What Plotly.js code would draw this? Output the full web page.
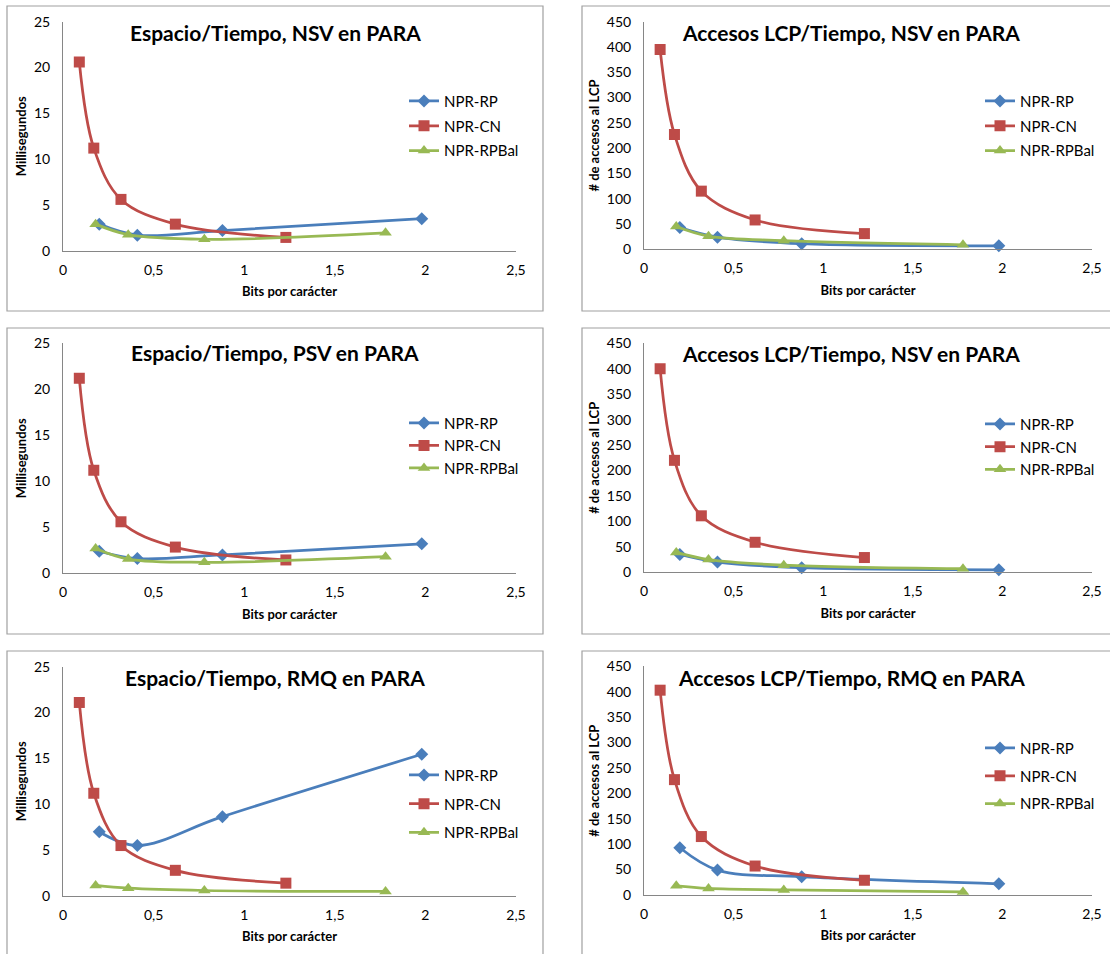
<!DOCTYPE html>
<html><head><meta charset="utf-8">
<script src="https://cdn.plot.ly/plotly-3.0.1.min.js"></script>
<style>html,body{margin:0;padding:0;background:#fff}#chart{width:1110px;height:954px}</style>
</head><body><div id="chart"></div>
<script>
// ---- data ----
const seriesNames = ['NPR-RP', 'NPR-CN', 'NPR-RPBal'];
const xRP  = [0.20, 0.41, 0.88, 1.98];
const xCN  = [0.09, 0.17, 0.32, 0.62, 1.23];
const xBal = [0.18, 0.36, 0.78, 1.78];

const titles = [
  'Espacio/Tiempo, NSV en PARA',
  'Accesos LCP/Tiempo, NSV en PARA',
  'Espacio/Tiempo, PSV en PARA',
  'Accesos LCP/Tiempo, NSV en PARA',
  'Espacio/Tiempo, RMQ en PARA',
  'Accesos LCP/Tiempo, RMQ en PARA'
];
const yTitles = ['Millisegundos', '# de accesos al LCP', 'Millisegundos', '# de accesos al LCP', 'Millisegundos', '# de accesos al LCP'];
const xTitle = 'Bits por carácter';
const xTickVals = [0, 0.5, 1, 1.5, 2, 2.5];
const yMaxMs = 25, yMaxLcp = 450;

// panel 1: Espacio/Tiempo NSV
const p1RP  = [2.9, 1.7, 2.2, 3.5];
const p1CN  = [20.6, 11.2, 5.6, 2.9, 1.45];
const p1Bal = [2.9, 1.75, 1.25, 1.95];
// panel 2: Accesos LCP NSV
const p2RP  = [43, 24, 11, 7];
const p2CN  = [395, 227, 115, 58, 31];
const p2Bal = [45, 26, 17, 9];
// panel 3: Espacio/Tiempo PSV
const p3RP  = [2.4, 1.6, 2.0, 3.2];
const p3CN  = [21.2, 11.2, 5.6, 2.85, 1.45];
const p3Bal = [2.7, 1.55, 1.2, 1.8];
// panel 4: Accesos LCP NSV (second)
const p4RP  = [35, 20, 9, 5];
const p4CN  = [400, 220, 111, 59, 29];
const p4Bal = [39, 25, 14, 7];
// panel 5: Espacio/Tiempo RMQ
const p5RP  = [7.0, 5.5, 8.65, 15.45];
const p5CN  = [21.1, 11.2, 5.5, 2.8, 1.4];
const p5Bal = [1.15, 0.85, 0.6, 0.5];
// panel 6: Accesos LCP RMQ
const p6RP  = [93, 49, 36, 22];
const p6CN  = [403, 227, 115, 57, 29];
const p6Bal = [18, 13, 10, 6];

const panelData = [
  [p1RP, p1CN, p1Bal], [p2RP, p2CN, p2Bal], [p3RP, p3CN, p3Bal],
  [p4RP, p4CN, p4Bal], [p5RP, p5CN, p5Bal], [p6RP, p6CN, p6Bal]
];
const yMax = [yMaxMs, yMaxLcp, yMaxMs, yMaxLcp, yMaxMs, yMaxLcp];
const yDtick = [5, 50, 5, 50, 5, 50];

// ---- geometry (pixels) ----
const W = 1110, H = 954;
const geom = [
  {box:[7,543,6,311],   px:[63,516],  py:[21.7,250.7], title:[275,32],  leg:[409,100,24.8]},
  {box:[582,1118,6,311],px:[644,1092],py:[21.7,249.3], title:[851,32],  leg:[985,100,24.8]},
  {box:[7,543,328,634], px:[63,516],  py:[343.3,573.3],title:[275,353], leg:[409,422,22.5]},
  {box:[582,1118,328,634],px:[644,1092],py:[343.3,572.3],title:[851,354],leg:[985,423,22.7]},
  {box:[7,543,651,962], px:[63,516],  py:[666.7,896],  title:[275,677], leg:[409,774,28.7]},
  {box:[582,1118,651,962],px:[644,1092],py:[666.3,895],title:[851,677], leg:[985,747,27.8]}
];
const fx = p => p / W;
const fy = p => 1 - p / H;

const colors = ['#4A7EBB', '#BE4B48', '#98B954'];
const symbols = ['diamond', 'square', 'triangle-up'];
const msize = [10, 11, 11];
const xs = [xRP, xCN, xBal];
const FONT = 'Lato, "Open Sans", sans-serif';
const LEGFONT = 15;

const traces = [];
const layout = {
  width: W, height: H,
  margin: {l:0, r:0, t:0, b:0},
  paper_bgcolor: '#ffffff', plot_bgcolor: 'rgba(0,0,0,0)',
  separators: ', ',
  font: {family: FONT, color: '#000000', size: 14},
  showlegend: true,
  shapes: [], annotations: []
};

geom.forEach((g, i) => {
  const sfx = i === 0 ? '' : String(i + 1);
  const legName = i === 0 ? 'legend' : 'legend' + (i + 1);
  panelData[i].forEach((ys, s) => {
    traces.push({
      type: 'scatter', mode: 'lines+markers',
      name: seriesNames[s],
      x: xs[s], y: ys,
      xaxis: 'x' + sfx, yaxis: 'y' + sfx,
      legend: legName, legendgroup: 'g' + i + '_' + s,
      line: {color: colors[s], width: 2.75, shape: 'spline', smoothing: 1},
      marker: {symbol: symbols[s], size: msize[s], color: colors[s], line: {width: 0}},
      cliponaxis: false,
      hoverinfo: 'x+y+name'
    });
  });
  layout['xaxis' + sfx] = {
    domain: [fx(g.px[0]), fx(g.px[1])], anchor: 'y' + sfx,
    range: [0, 2.5], tickvals: xTickVals,
    showline: true, linecolor: '#868686', linewidth: 1,
    showgrid: false, zeroline: false,
    ticks: 'outside', ticklen: 6, tickcolor: 'rgba(0,0,0,0)',
    tickfont: {family: FONT, size: 14, color: '#000'},
    title: {text: xTitle, font: {family: FONT, size: 13, color: '#000', weight: 'bold'}, standoff: 10},
    automargin: false, fixedrange: true
  };
  layout['yaxis' + sfx] = {
    domain: [fy(g.py[1]), fy(g.py[0])], anchor: 'x' + sfx,
    range: [0, yMax[i]], dtick: yDtick[i], tick0: 0,
    showline: true, linecolor: '#868686', linewidth: 1,
    showgrid: false, zeroline: false,
    ticks: 'outside', ticklen: 9, tickcolor: 'rgba(0,0,0,0)',
    tickfont: {family: FONT, size: 14, color: '#000'},
    title: {text: yTitles[i], font: {family: FONT, size: 13, color: '#000', weight: 'bold'}, standoff: 4},
    automargin: false, fixedrange: true
  };
  layout[legName] = {
    x: fx(g.leg[0] - 5), y: fy(g.leg[1] - 15.3),
    xanchor: 'left', yanchor: 'top',
    bgcolor: 'rgba(0,0,0,0)', borderwidth: 0,
    font: {family: FONT, size: LEGFONT, color: '#000'},
    traceorder: 'grouped', tracegroupgap: Math.max(0, g.leg[2] - 22.5)
  };
  layout.shapes.push({
    type: 'rect', xref: 'paper', yref: 'paper',
    x0: fx(g.box[0]), x1: fx(g.box[1]), y0: fy(g.box[3]), y1: fy(g.box[2]),
    line: {color: '#a0a0a0', width: 1.2}, fillcolor: 'rgba(0,0,0,0)', layer: 'below'
  });
  layout.annotations.push({
    xref: 'paper', yref: 'paper', x: fx(g.title[0]), y: fy(g.title[1]),
    xanchor: 'center', yanchor: 'middle', showarrow: false,
    text: titles[i],
    font: {family: FONT, size: 21, color: '#000', weight: 'bold'}
  });
});

Plotly.newPlot('chart', traces, layout, {displayModeBar: false, staticPlot: true});
</script>
</body></html>
